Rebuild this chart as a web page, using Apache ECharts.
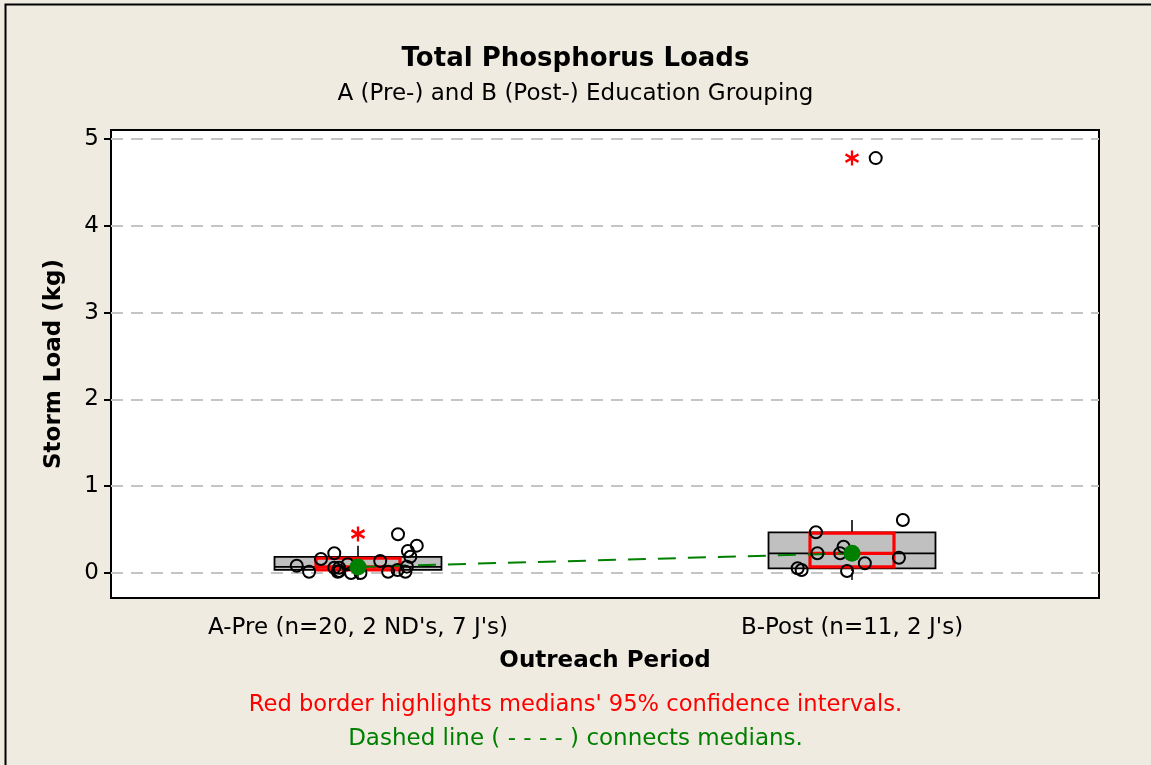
<!DOCTYPE html>
<html>
<head>
<meta charset="utf-8">
<title>Total Phosphorus Loads</title>
<script src="https://cdn.jsdelivr.net/npm/echarts@6/dist/echarts.min.js"></script>
<style>
  html, body { margin: 0; padding: 0; background: #efebe0; }
  #chart { width: 1151px; height: 765px; }
</style>
</head>
<body>
<div id="chart"></div>
<script>
// Outreach periods (x positions are category centres on a 0..2 value axis)
const categories = ["A-Pre (n=20, 2 ND's, 7 J's)", "B-Post (n=11, 2 J's)"];
const categoryPos = [0.5, 1.5];

// Individual storm loads (kg) with horizontal jitter offsets around each category
const preLoads = [0.084, 0.015, 0.161, 0.227, 0.061, 0.015, 0.061, 0.100, 0.000, 0.000,
                  0.138, 0.015, 0.035, 0.446, 0.015, 0.253, 0.188, 0.315, 0.073, 0.023];
const preJitter = [-0.124, -0.099, -0.075, -0.048, -0.048, -0.041, -0.038, -0.021, -0.014, 0.005,
                   0.045, 0.061, 0.080, 0.081, 0.096, 0.101, 0.106, 0.119, 0.099, -0.038];
const postLoads = [0.469, 0.227, 0.054, 0.035, 0.303, 0.227, 0.023, 0.112, 0.176, 0.611, 4.780];
const postJitter = [-0.073, -0.070, -0.110, -0.102, -0.017, -0.024, -0.010, 0.026, 0.095, 0.103, 0.048];

// Box summaries per period: [lowWhisker, Q1, median, Q3, highWhisker]
const boxStats = [
  [0.000, 0.035, 0.070, 0.185, 0.315],
  [0.023, 0.054, 0.227, 0.469, 0.611]
];
// 95% confidence interval of each median: [low, high]
const medianCI = [
  [0.035, 0.170],
  [0.070, 0.460]
];
// Outliers flagged by the box plot
const outliers = [0.450, 4.780];

// Y tick labels
const yTicks = [0, 1, 2, 3, 4, 5];

const FONT = "'DejaVu Sans', sans-serif";
const GREEN = '#008000';
const FS = 23;

const chart = echarts.init(document.getElementById('chart'), null, { renderer: 'canvas' });

const boxData = categoryPos.map((x, i) => [x].concat(boxStats[i], medianCI[i]));
const pointData = preLoads.map((v, i) => [categoryPos[0] + preJitter[i], v])
  .concat(postLoads.map((v, i) => [categoryPos[1] + postJitter[i], v]));
const medianData = categoryPos.map((x, i) => [x, boxStats[i][2]]);
const outlierData = categoryPos.map((x, i) => [x, outliers[i]]);

const BOX_HALF = 0.169;   // box half-width in x units
const CI_HALF = 0.085;    // confidence box half-width in x units

function renderBox(params, api) {
  const x = api.value(0);
  const lw = api.value(1), q1 = api.value(2), med = api.value(3), q3 = api.value(4), hw = api.value(5);
  const ciLo = api.value(6), ciHi = api.value(7);
  const pL = api.coord([x - BOX_HALF, q3]);
  const pR = api.coord([x + BOX_HALF, q1]);
  const cL = api.coord([x - CI_HALF, ciHi]);
  const cR = api.coord([x + CI_HALF, ciLo]);
  const yMed = api.coord([x, med])[1];
  const xc = api.coord([x, med])[0];
  const yHw = api.coord([x, hw])[1];
  const yLw = api.coord([x, lw])[1];
  return {
    type: 'group',
    children: [
      { type: 'line', shape: { x1: xc, y1: pL[1], x2: xc, y2: yHw }, style: { stroke: '#000', lineWidth: 1.6 } },
      { type: 'line', shape: { x1: xc, y1: pR[1], x2: xc, y2: yLw }, style: { stroke: '#000', lineWidth: 1.6 } },
      { type: 'rect', shape: { x: pL[0], y: pL[1], width: pR[0] - pL[0], height: pR[1] - pL[1] },
        style: { fill: '#c0c0c0', stroke: '#000', lineWidth: 1.8 } },
      { type: 'line', shape: { x1: pL[0], y1: yMed, x2: pR[0], y2: yMed }, style: { stroke: '#000', lineWidth: 1.8 } },
      { type: 'rect', shape: { x: cL[0], y: cL[1], width: cR[0] - cL[0], height: cR[1] - cL[1] },
        style: { fill: 'none', stroke: '#ff0000', lineWidth: 3.2 } },
      { type: 'line', shape: { x1: cL[0], y1: yMed, x2: cR[0], y2: yMed }, style: { stroke: '#ff0000', lineWidth: 3.2 } }
    ]
  };
}

const option = {
  backgroundColor: '#efebe0',
  animation: false,
  title: [
    { text: 'Total Phosphorus Loads', left: 'center', top: 41,
      textStyle: { fontFamily: FONT, fontSize: 26, fontWeight: 'bold', color: '#000' } },
    { text: 'A (Pre-) and B (Post-) Education Grouping', left: 'center', top: 78,
      textStyle: { fontFamily: FONT, fontSize: FS, fontWeight: 'normal', color: '#000' } },
    { text: "Red border highlights medians' 95% confidence intervals.", left: 'center', top: 689,
      textStyle: { fontFamily: FONT, fontSize: 22.6, fontWeight: 'normal', color: '#ff0000' } },
    { text: 'Dashed line ( - - - - ) connects medians.', left: 'center', top: 723,
      textStyle: { fontFamily: FONT, fontSize: FS, fontWeight: 'normal', color: GREEN } }
  ],
  graphic: [
    { type: 'rect', left: 3, top: 2, shape: { width: 1200, height: 800 },
      style: { fill: 'none', stroke: '#000', lineWidth: 2 }, z: 100, silent: true }
  ],
  grid: {
    left: 111, top: 130, right: 52, bottom: 167,
    show: true, backgroundColor: '#ffffff', borderColor: '#000', borderWidth: 2
  },
  xAxis: {
    type: 'value', min: 0, max: 2,
    name: 'Outreach Period', nameLocation: 'middle', nameGap: 52,
    nameTextStyle: { fontFamily: FONT, fontSize: FS, fontWeight: 'bold', color: '#000' },
    axisLine: { show: false },
    axisTick: { show: true, length: 7, customValues: categoryPos, lineStyle: { color: '#000', width: 1.5 } },
    axisLabel: { customValues: categoryPos, margin: 19, fontFamily: FONT, fontSize: FS, color: '#000',
      formatter: v => categories[categoryPos.indexOf(v)] },
    splitLine: { show: false }
  },
  yAxis: {
    type: 'value', min: -0.288, max: 5.104,
    name: 'Storm Load (kg)', nameLocation: 'middle', nameGap: 45, nameRotate: 90,
    nameTextStyle: { fontFamily: FONT, fontSize: FS, fontWeight: 'bold', color: '#000' },
    axisLine: { show: false },
    axisTick: { show: true, length: 7, customValues: yTicks, lineStyle: { color: '#000', width: 2 } },
    axisLabel: { customValues: yTicks, margin: 12, fontFamily: FONT, fontSize: FS, color: '#000' },
    splitLine: { show: true, lineStyle: { color: '#c4c4c4', width: 2, type: [12, 8] } }
  },
  series: [
    { type: 'custom', renderItem: renderBox, data: boxData, z: 2, silent: true },
    { type: 'line', data: medianData, symbol: 'none', z: 3, silent: true,
      lineStyle: { color: GREEN, width: 2, type: [18, 12] } },
    { type: 'scatter', data: pointData, symbol: 'circle', symbolSize: 12, z: 4, clip: false, silent: true,
      itemStyle: { color: 'rgba(0,0,0,0)', borderColor: '#000', borderWidth: 2, opacity: 1 } },
    { type: 'scatter', data: medianData, symbol: 'circle', symbolSize: 17, z: 5, silent: true,
      itemStyle: { color: GREEN, opacity: 1 } },
    { type: 'scatter', data: outlierData, z: 5, silent: true,
      symbol: 'path://M0,-10L0,10M-8.66,-5L8.66,5M-8.66,5L8.66,-5', symbolSize: [13, 15],
      itemStyle: { color: 'rgba(0,0,0,0)', borderColor: '#ff0000', borderWidth: 2.5, opacity: 1 } }
  ]
};

chart.setOption(option);
</script>
</body>
</html>
